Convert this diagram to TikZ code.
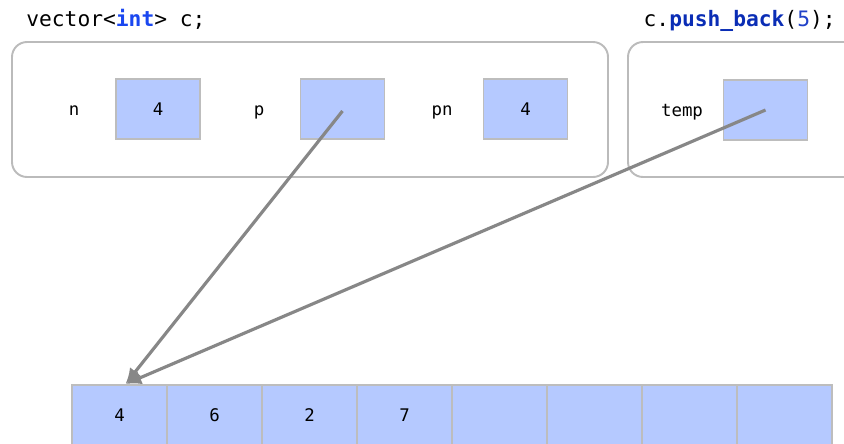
\documentclass[tikz,border=0pt]{standalone}
\usepackage{fontspec}
\setmonofont{DejaVu Sans Mono}
\usetikzlibrary{arrows.meta}
\usepackage{xcolor}
\definecolor{CellCol}{HTML}{B5C9FF}
\definecolor{CellLine}{HTML}{BDBDBD}
\definecolor{FrameLine}{HTML}{BBBBBB}
\definecolor{PtrCol}{HTML}{878787}
\definecolor{KeyCol}{HTML}{1A47F0}
\definecolor{FuncCol}{HTML}{0A2DB5}
\definecolor{NumCol}{HTML}{2142C8}

\tikzset{
	cell/.style = {draw = CellLine, fill = CellCol, line width = 1.1pt, minimum width = 1.68cm, minimum height = 1.2cm, inner sep = 0pt, font = \ttfamily\fontsize{9.9pt}{12pt}\selectfont},
	slot/.style = {cell, minimum width = 1.9cm},
	varname/.style = {anchor = base, inner sep = 0pt, font = \ttfamily\fontsize{9.9pt}{12pt}\selectfont},
	code/.style = {inner sep = 0pt, font = \ttfamily\fontsize{12.1pt}{14pt}\selectfont},
	frame/.style = {draw = FrameLine, line width = 1.1pt, rounded corners = 0.3cm},
	pointer/.style = {draw = PtrCol, line width = 1.8pt, -{Latex[length = 9pt, width = 8pt]}}
}

\begin{document}
\begin{tikzpicture}[x = 0.02cm, y = -0.02cm]
	\useasboundingbox (0, 0) rectangle (844, 443);
	\clip (0, 0) rectangle (844, 443);
	% code lines
	\node[code, anchor = base west] (decl) at (26, 26) {vector<\textbf{\textcolor{KeyCol}{int}}> c;};
	\node[code, anchor = base east] (call) at (836, 26) {c.\textbf{\textcolor{FuncCol}{push\_back}}(\textcolor{NumCol}{5});};
	% stack frames
	\draw[frame] (12, 42) rectangle (608, 177);
	\draw[frame] (628, 42) rectangle (870, 177);
	\node[varname] (nname) at (74, 115.5) {n};
	\node[cell] (n) at (158, 109) {4};
	\node[varname] (pname) at (259, 115.5) {p};
	\node[cell] (p) at (342.5, 109) {};
	\node[varname] (pnname) at (442, 115.5) {pn};
	\node[cell] (pn) at (525.5, 109) {4};
	\node[varname] (tempname) at (682, 116.5) {temp};
	\node[cell] (temp) at (765.5, 110) {};
	% heap array
	\foreach \v [count = \i from 0] in {4, 6, 2, 7, {}, {}, {}, {}} {
			\node[slot] (a\i) at (119.5 + 95 * \i, 415) {\v};
		}
	% pointers
	\coordinate (tip) at ([xshift = 0.12cm] a0.north);
	\draw[pointer] ([yshift = -0.04cm] p.center) -- (tip);
	\draw[pointer] (temp.center) -- (tip);
\end{tikzpicture}
\end{document}
